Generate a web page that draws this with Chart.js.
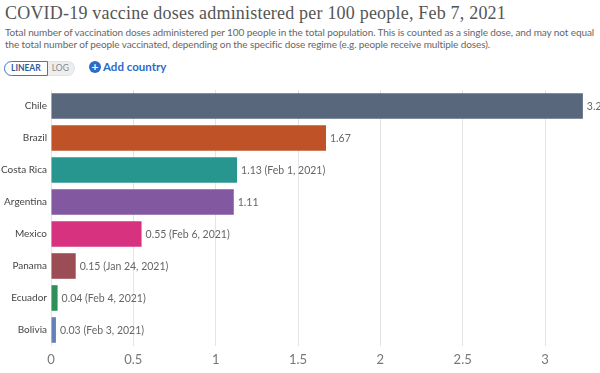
<!DOCTYPE html>
<html lang="en">
<head>
    <meta charset="UTF-8">
    <title>COVID-19 vaccine doses administered per 100 people</title>
    <script src="https://cdn.jsdelivr.net/npm/chart.js"></script>
    <style>
        body {
            margin: 0;
            width: 600px;
            height: 373px;
            overflow: hidden;
            background: #fff;
            font-family: Lato, Arial, sans-serif;
            position: relative;
        }
        h1 {
            position: absolute;
            left: 5px;
            top: 3px;
            margin: 0;
            font-family: "Liberation Serif", "DejaVu Serif", serif;
            font-weight: normal;
            font-size: 18px;
            letter-spacing: 0.2px;
            color: #555;
            white-space: nowrap;
        }
        .sub {
            position: absolute;
            left: 5px;
            top: 26px;
            width: 595px;
            font-size: 10px;
            line-height: 12px;
            letter-spacing: -0.1px;
            color: #666;
        }
        .toggle {
            position: absolute;
            left: 4px;
            top: 61px;
            display: flex;
            font-size: 8.5px;
            font-weight: bold;
        }
        .toggle span {
            display: block;
            line-height: 13px;
            padding: 0 6px;
        }
        .lin {
            border: 1px solid #3b78c6;
            border-radius: 8px 0 0 8px;
            color: #2f5c9a;
        }
        .toggle .log {
            background: #eee;
            border: 1px solid #e2e2e2;
            border-left: none;
            border-radius: 0 8px 8px 0;
            color: #888;
            font-weight: normal;
            padding: 0 5px 0 4px;
        }
        .add {
            position: absolute;
            left: 89px;
            top: 60px;
            font-size: 11.5px;
            font-weight: bold;
            color: #2d6ac9;
            display: flex;
            align-items: center;
        }
        .add i {
            display: inline-block;
            width: 12px;
            height: 12px;
            border-radius: 6px;
            background: #2d6ac9;
            color: #fff;
            font-style: normal;
            font-size: 12px;
            line-height: 12px;
            text-align: center;
            margin-right: 2px;
        }
        #wrap {
            position: absolute;
            left: 0;
            top: 80px;
            width: 600px;
            height: 293px;
        }
    </style>
</head>
<body>
    <h1>COVID-19 vaccine doses administered per 100 people, Feb 7, 2021</h1>
    <div class="sub">Total number of vaccination doses administered per 100 people in the total population. This is counted as a single dose, and may not equal the total number of people vaccinated, depending on the specific dose regime (e.g. people receive multiple doses).</div>
    <div class="toggle"><span class="lin">LINEAR</span><span class="log">LOG</span></div>
    <div class="add"><i>+</i>Add country</div>
    <div id="wrap"><canvas id="vaxChart"></canvas></div>

    <script>
        const countries = ['Chile', 'Brazil', 'Costa Rica', 'Argentina', 'Mexico', 'Panama', 'Ecuador', 'Bolivia'];
        const doses = [3.23, 1.67, 1.13, 1.11, 0.55, 0.15, 0.04, 0.03];
        const dates = ['', '', 'Feb 1, 2021', '', 'Feb 6, 2021', 'Jan 24, 2021', 'Feb 4, 2021', 'Feb 3, 2021'];
        const barColors = ['#59677d', '#c05228', '#27968f', '#8258a1', '#d6327f', '#9b4d55', '#2e8f58', '#6681b6'];
        const xStep = 0.5;

        const valueLabels = {
            id: 'valueLabels',
            afterDatasetsDraw(chart) {
                const ctx = chart.ctx;
                const meta = chart.getDatasetMeta(0);
                ctx.save();
                ctx.font = '10.5px Lato';
                ctx.fillStyle = '#666';
                ctx.textBaseline = 'middle';
                meta.data.forEach((bar, i) => {
                    let txt = doses[i].toFixed(2).replace(/0$/, '');
                    if (dates[i]) txt += ' (' + dates[i] + ')';
                    ctx.fillText(txt, bar.x + 4, bar.y + 1);
                });
                ctx.restore();
            }
        };

        new Chart(document.getElementById('vaxChart'), {
            type: 'bar',
            data: {
                labels: countries,
                datasets: [{
                    data: doses,
                    backgroundColor: barColors,
                    barPercentage: 0.8,
                    categoryPercentage: 1
                }]
            },
            options: {
                indexAxis: 'y',
                responsive: true,
                maintainAspectRatio: false,
                animation: false,
                layout: { padding: { top: 6, right: 0, bottom: 0, left: 0 } },
                plugins: {
                    legend: { display: false },
                    tooltip: { enabled: false }
                },
                scales: {
                    x: {
                        min: 0,
                        max: 3.334,
                        afterFit: (scale) => { scale.height = 27; },
                        border: { display: false },
                        grid: { color: '#e4e4e4', lineWidth: 1, drawTicks: false },
                        ticks: {
                            stepSize: xStep,
                            includeBounds: false,
                            padding: 6,
                            color: '#777',
                            font: { family: 'Lato', size: 13 },
                            maxRotation: 0,
                            callback: (v) => String(v)
                        }
                    },
                    y: {
                        afterFit: (scale) => { scale.width = 51; },
                        border: { display: false },
                        grid: { display: false, drawTicks: false },
                        ticks: {
                            padding: 4,
                            color: '#444',
                            font: { family: 'Lato', size: 10 }
                        }
                    }
                }
            },
            plugins: [valueLabels]
        });
    </script>
</body>
</html>
